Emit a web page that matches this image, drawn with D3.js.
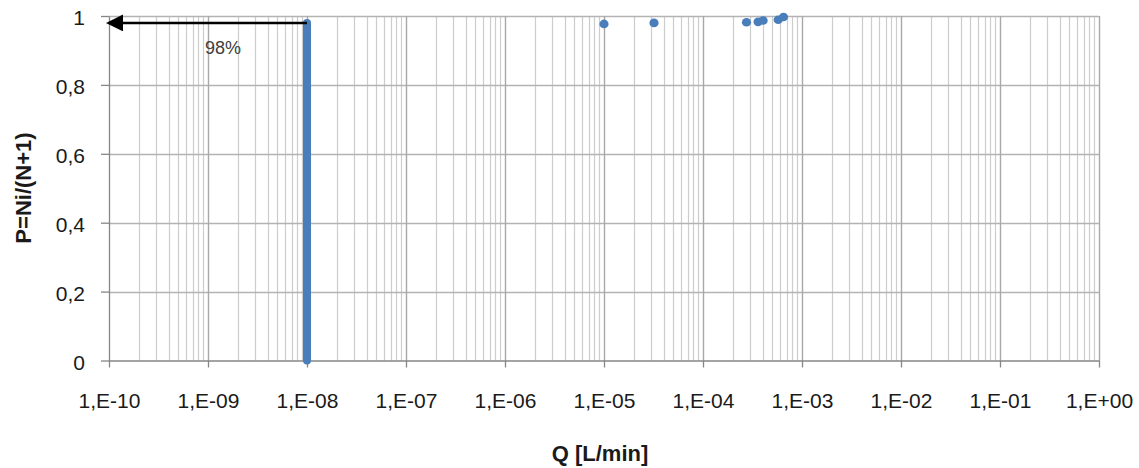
<!DOCTYPE html>
<html>
<head>
<meta charset="utf-8">
<script src="https://cdn.jsdelivr.net/npm/d3@7"></script>
<style>
  html, body { margin: 0; padding: 0; background: #fff; }
  svg { display: block; }
</style>
</head>
<body>
<svg id="chart" width="1139" height="468"></svg>
<script>
// Leak-rate distribution: Q [L/min] vs cumulative probability P = Ni/(N+1)
const xDomain = [1e-10, 1];
const xTickValues = [1e-10, 1e-9, 1e-8, 1e-7, 1e-6, 1e-5, 1e-4, 1e-3, 1e-2, 1e-1, 1];
const xTickLabels = ["1,E-10", "1,E-09", "1,E-08", "1,E-07", "1,E-06", "1,E-05", "1,E-04", "1,E-03", "1,E-02", "1,E-01", "1,E+00"];
const yTickValues = [0, 0.2, 0.4, 0.6, 0.8, 1];
const yTickLabels = ["0", "0,2", "0,4", "0,6", "0,8", "1"];

// Measurements below the detection limit, stacked at Q = 1E-08 from P = 0 up to P = 0.98
const censoredQ = [1e-8, 1e-8];
const censoredP = [0, 0.98];

// Measured leak rates
const measuredQ = [1.0e-5, 3.2e-5, 2.75e-4, 3.6e-4, 4.05e-4, 5.75e-4, 6.5e-4];
const measuredP = [0.977, 0.980, 0.982, 0.983, 0.987, 0.989, 0.997];

// Annotation arrow
const markerLevel = 0.98;
const markerText = "98%";

const svg = d3.select("#chart");
const blue = "#4a7ebb";
const font = "'Liberation Sans', Arial, sans-serif";

const x = d3.scaleLog().domain(xDomain).range([109, 1099]);
const y = d3.scaleLinear().domain([0, 1]).range([360.5, 16]);

// Minor vertical gridlines (2..9 within each decade)
const minorTicks = [];
for (let e = -10; e < 0; e++) {
  for (let k = 2; k <= 9; k++) minorTicks.push(k * Math.pow(10, e));
}
const grid = svg.append("g");
grid.selectAll("line.minor").data(minorTicks).join("line")
  .attr("class", "minor")
  .attr("x1", d => Math.round(x(d)) + 0.5).attr("x2", d => Math.round(x(d)) + 0.5)
  .attr("y1", y(1)).attr("y2", y(0))
  .attr("stroke", "#cdcdcd").attr("stroke-width", 1.2);

// Horizontal gridlines
grid.selectAll("line.h").data(yTickValues.filter(v => v > 0)).join("line")
  .attr("class", "h")
  .attr("x1", x(xDomain[0])).attr("x2", x(xDomain[1]))
  .attr("y1", d => Math.round(y(d)) + 0.5).attr("y2", d => Math.round(y(d)) + 0.5)
  .attr("stroke", "#b3b3b3").attr("stroke-width", 1.3);

// Major vertical gridlines
grid.selectAll("line.major").data(xTickValues.slice(1)).join("line")
  .attr("class", "major")
  .attr("x1", d => Math.round(x(d)) + 0.5).attr("x2", d => Math.round(x(d)) + 0.5)
  .attr("y1", y(1)).attr("y2", y(0))
  .attr("stroke", "#a8a8a8").attr("stroke-width", 1.4);

// X axis
const xAxis = d3.axisBottom(x)
  .tickValues(xTickValues)
  .tickFormat((d, i) => xTickLabels[i])
  .tickSize(7).tickSizeOuter(0).tickPadding(26);
const gx = svg.append("g").attr("transform", `translate(0,${y(0)})`).call(xAxis);
gx.select(".domain").attr("stroke", "#868686").attr("stroke-width", 1.3);
gx.selectAll(".tick line").attr("stroke", "#868686").attr("stroke-width", 1.3);
gx.selectAll(".tick text").attr("font-family", font).attr("font-size", 21).attr("fill", "#1a1a1a");

// Y axis
const yAxis = d3.axisLeft(y)
  .tickValues(yTickValues)
  .tickFormat((d, i) => yTickLabels[i])
  .tickSize(8).tickSizeOuter(0).tickPadding(16);
const gy = svg.append("g").attr("transform", `translate(${x(xDomain[0])},0)`).call(yAxis);
gy.select(".domain").attr("stroke", "#868686").attr("stroke-width", 1.3);
gy.selectAll(".tick line").attr("stroke", "#868686").attr("stroke-width", 1.3);
gy.selectAll(".tick text").attr("font-family", font).attr("font-size", 21).attr("fill", "#1a1a1a")
  .attr("dy", "0.42em");

// Censored measurements drawn as a stacked column of markers
svg.append("line")
  .attr("x1", x(censoredQ[0])).attr("x2", x(censoredQ[1]))
  .attr("y1", y(censoredP[0])).attr("y2", y(censoredP[1]))
  .attr("stroke", blue).attr("stroke-width", 8).attr("stroke-linecap", "round");

// Measured points
svg.append("g").selectAll("ellipse").data(measuredQ).join("ellipse")
  .attr("cx", d => x(d))
  .attr("cy", (d, i) => y(measuredP[i]))
  .attr("rx", 4.6).attr("ry", 4.3)
  .attr("fill", blue);

// Arrow pointing to the 98% level on the P axis
const defs = svg.append("defs");
defs.append("marker")
  .attr("id", "arrowhead")
  .attr("viewBox", "0 0 10 10")
  .attr("refX", 0).attr("refY", 5)
  .attr("markerUnits", "userSpaceOnUse")
  .attr("markerWidth", 17).attr("markerHeight", 17)
  .attr("orient", "auto-start-reverse")
  .append("path").attr("d", "M0,0 L10,5 L0,10 Z").attr("fill", "#000");

svg.append("line")
  .attr("x1", x(censoredQ[1])).attr("x2", x(xDomain[0]) + 14)
  .attr("y1", y(markerLevel)).attr("y2", y(markerLevel))
  .attr("stroke", "#000").attr("stroke-width", 2.5)
  .attr("marker-end", "url(#arrowhead)");

svg.append("text")
  .attr("x", 223).attr("y", 54)
  .attr("text-anchor", "middle")
  .attr("font-family", font).attr("font-size", 18)
  .attr("fill", "#404040")
  .text(markerText);

// Axis titles
svg.append("text")
  .attr("x", 600).attr("y", 461)
  .attr("text-anchor", "middle")
  .attr("font-family", font).attr("font-size", 22).attr("font-weight", "bold")
  .attr("fill", "#1a1a1a")
  .text("Q [L/min]");

svg.append("text")
  .attr("transform", "translate(31,188) rotate(-90)")
  .attr("text-anchor", "middle")
  .attr("font-family", font).attr("font-size", 22).attr("font-weight", "bold")
  .attr("fill", "#1a1a1a")
  .text("P=Ni/(N+1)");
</script>
</body>
</html>
